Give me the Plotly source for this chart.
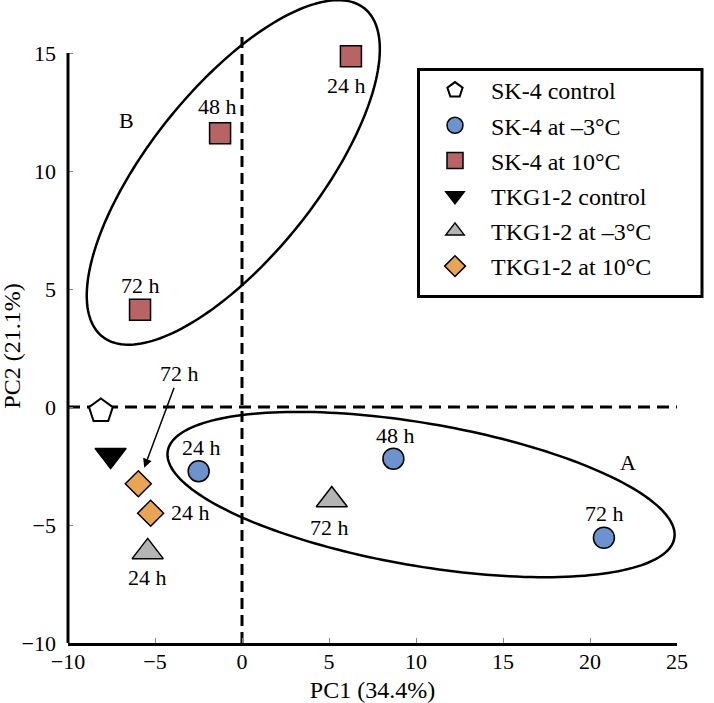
import numpy as np
import plotly.graph_objects as go

# ---------------- data ----------------
sk4_ctrl_x = [-8.11]
sk4_ctrl_y = [-0.17]

sk4_m3_x = [-2.49, 8.70, 20.80]
sk4_m3_y = [-2.72, -2.19, -5.54]
sk4_m3_lab = ["24 h", "48 h", "72 h"]

sk4_10_x = [6.26, -1.26, -5.86]
sk4_10_y = [14.86, 11.60, 4.12]
sk4_10_lab = ["24 h", "48 h", "72 h"]

tkg_ctrl_x = [-7.55]
tkg_ctrl_y = [-2.04]

tkg_m3_x = [-5.42, 5.16]
tkg_m3_y = [-6.14, -3.94]
tkg_m3_lab = ["24 h", "72 h"]

tkg_10_x = [-5.25, -5.96]
tkg_10_y = [-4.50, -3.25]
tkg_10_lab = ["24 h", "72 h"]

x_ticks = [-10, -5, 0, 5, 10, 15, 20, 25]
y_ticks = [-10, -5, 0, 5, 10, 15]

# ---------------- layout geometry ----------------
W, H = 714, 703
ML, MR, MT, MB = 68, 37, 0, 60
PW, PH = W - ML - MR, H - MT - MB
X0, X1 = -10, 25
SX = PW / (X1 - X0)            # px per x unit
SY = 23.6                      # px per y unit
Y0 = -10
Y1 = Y0 + PH / SY              # extended so ellipse B is not clipped

FONT = "Liberation Serif, Times New Roman, serif"

def ellipse_path(cx, cy, a_px, b_px, ang_deg, n=200):
    t = np.linspace(0, 2 * np.pi, n)
    th = np.deg2rad(ang_deg)
    dx = a_px * np.cos(t) * np.cos(th) - b_px * np.sin(t) * np.sin(th)
    dy = a_px * np.cos(t) * np.sin(th) + b_px * np.sin(t) * np.cos(th)
    xs = cx + dx / SX
    ys = cy + dy / SY
    return "M " + " L ".join(f"{x:.4f},{y:.4f}" for x, y in zip(xs, ys)) + " Z"

fig = go.Figure()

line_k = dict(color="black", width=1.5)

series = [
    ("SK-4 control", sk4_ctrl_x, sk4_ctrl_y, "pentagon", "white", 25, dict(color="black", width=2)),
    ("SK-4 at –3°C", sk4_m3_x, sk4_m3_y, "circle", "#6D93CE", 21, line_k),
    ("SK-4 at 10°C", sk4_10_x, sk4_10_y, "square", "#B86464", 21, line_k),
    ("TKG1-2 control", tkg_ctrl_x, tkg_ctrl_y, "triangle-down", "black", 27, line_k),
    ("TKG1-2 at –3°C", tkg_m3_x, tkg_m3_y, "triangle-up", "#B4B4B4", 27, line_k),
    ("TKG1-2 at 10°C", tkg_10_x, tkg_10_y, "diamond", "#E8A555", 20, line_k),
]
for i, (name, xs, ys, sym, col, sz, ln) in enumerate(series):
    fig.add_trace(go.Scatter(
        x=xs, y=ys, mode="markers", name=name, legendgroup=f"g{i}",
        marker=dict(symbol=sym, color=col, size=sz, line=ln),
        cliponaxis=False,
    ))

# ---------------- point labels ----------------
def label(x, y, text, xs=0, ys=0):
    fig.add_annotation(x=x, y=y, text=text, showarrow=False, xshift=xs, yshift=ys,
                       font=dict(family=FONT, size=22, color="black"))

label(sk4_10_x[0], sk4_10_y[0], sk4_10_lab[0], -4, -29)
label(sk4_10_x[1], sk4_10_y[1], sk4_10_lab[1], -3, 27)
label(sk4_10_x[2], sk4_10_y[2], sk4_10_lab[2], 0, 24)
label(sk4_m3_x[0], sk4_m3_y[0], sk4_m3_lab[0], 3, 24)
label(sk4_m3_x[1], sk4_m3_y[1], sk4_m3_lab[1], 2, 23)
label(sk4_m3_x[2], sk4_m3_y[2], sk4_m3_lab[2], 1, 24)
label(tkg_m3_x[0], tkg_m3_y[0], tkg_m3_lab[0], 0, -26)
label(tkg_m3_x[1], tkg_m3_y[1], tkg_m3_lab[1], -2, -28)
label(tkg_10_x[0], tkg_10_y[0], tkg_10_lab[0], 40, 1)

# arrow label for the 72 h diamond
fig.add_annotation(x=tkg_10_x[1], y=tkg_10_y[1], text=tkg_10_lab[1], showarrow=True,
                   ax=41, ay=-110, standoff=17, arrowhead=2, arrowsize=1.2,
                   arrowwidth=1.5, arrowcolor="black",
                   font=dict(family=FONT, size=22, color="black"))

# group letters
fig.add_annotation(x=22.18, y=-2.35, text="A", showarrow=False,
                   font=dict(family=FONT, size=22, color="black"))
fig.add_annotation(x=-6.63, y=12.14, text="B", showarrow=False,
                   font=dict(family=FONT, size=22, color="black"))

# y axis title (centred on the -10..15 axis)
fig.add_annotation(xref="paper", yref="paper", x=0, y=1 - 346.7 / PH, xshift=-56,
                   text="PC2 (21.1%)", textangle=-90, showarrow=False,
                   xanchor="center", yanchor="middle",
                   font=dict(family=FONT, size=24, color="black"))

# ---------------- shapes ----------------
shapes = []
# ellipses
shapes.append(dict(type="path", xref="x", yref="y", layer="below",
                   path=ellipse_path(10.29, -3.71, 257, 71.3, -9.75),
                   line=dict(color="black", width=2.5)))
shapes.append(dict(type="path", xref="x", yref="y", layer="below",
                   path=ellipse_path(-0.50, 9.94, 210, 84, 51.4),
                   line=dict(color="black", width=2.5)))
# dashed zero lines
shapes.append(dict(type="line", xref="x", yref="y", x0=X0, x1=X1, y0=0, y1=0, layer="below",
                   line=dict(color="black", width=3, dash="12px,7px")))
shapes.append(dict(type="line", xref="x", yref="y", x0=0, x1=0, y0=Y0, y1=15.9, layer="below",
                   line=dict(color="black", width=3, dash="11px,6px")))
# y axis line (only from -10 to 15)
shapes.append(dict(type="line", xref="paper", yref="y", x0=0, x1=0, y0=Y0, y1=15,
                   line=dict(color="black", width=3)))
# legend frame
shapes.append(dict(type="rect", xref="paper", yref="paper",
                   x0=(418.5 - ML) / PW, x1=(702 - ML) / PW,
                   y0=1 - 296.5 / PH, y1=1 - 69.5 / PH,
                   line=dict(color="black", width=3), fillcolor="rgba(0,0,0,0)"))

fig.update_layout(
    width=W, height=H,
    margin=dict(l=ML, r=MR, t=MT, b=MB, autoexpand=False),
    paper_bgcolor="white", plot_bgcolor="white",
    font=dict(family=FONT, size=22, color="black"),
    shapes=shapes,
    showlegend=True,
    legend=dict(
        x=(419 - ML) / PW, y=1 - 68 / PH, xanchor="left", yanchor="top",
        bgcolor="rgba(0,0,0,0)", borderwidth=0,
        font=dict(family=FONT, size=24, color="black"),
        itemwidth=62, tracegroupgap=1,
    ),
    xaxis=dict(
        range=[X0, X1], tickvals=x_ticks, ticks="inside", ticklen=5, tickwidth=1,
        tickcolor="#888", showline=True, linewidth=3, linecolor="black",
        showgrid=False, zeroline=False, ticklabelstandoff=-3,
        tickfont=dict(family=FONT, size=22, color="black"),
        title=dict(text="PC1 (34.4%)", font=dict(family=FONT, size=24, color="black"),
                   standoff=13),
    ),
    yaxis=dict(
        range=[Y0, Y1], tickvals=y_ticks, ticks="inside", ticklen=5, tickwidth=1,
        tickcolor="#888", showline=False, showgrid=False, zeroline=False,
        ticklabelstandoff=11,
        tickfont=dict(family=FONT, size=22, color="black"),
    ),
)

fig.write_html("out.html", config={"displayModeBar": False},
               post_script="document.body.style.margin='0px';")
